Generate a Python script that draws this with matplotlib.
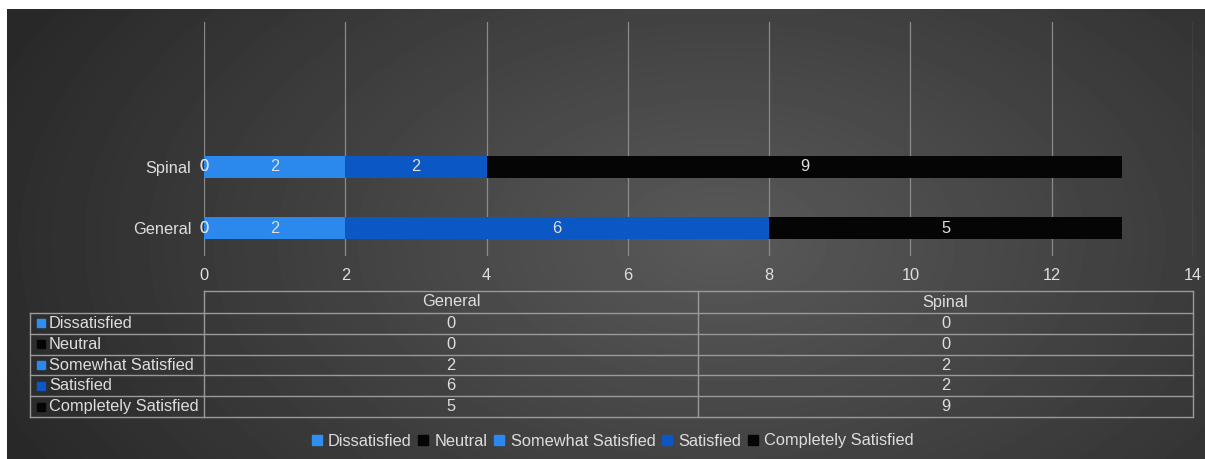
import numpy as np
import matplotlib.pyplot as plt
from matplotlib.patches import Rectangle
from matplotlib.lines import Line2D

plt.rcParams["font.family"] = ["Liberation Sans", "DejaVu Sans"]

# data
groups = ["General", "Spinal"]
levels = ["Dissatisfied", "Neutral", "Somewhat Satisfied", "Satisfied", "Completely Satisfied"]
dissatisfied = [0, 0]
neutral = [0, 0]
somewhat_satisfied = [2, 2]
satisfied = [6, 2]
completely_satisfied = [5, 9]
series = [dissatisfied, neutral, somewhat_satisfied, satisfied, completely_satisfied]
colors = ["#2f8ff0", "#050505", "#2b88ec", "#0b57c3", "#050505"]
x_ticks = [0, 2, 4, 6, 8, 10, 12, 14]

TXT = "#dedede"
LINE = "#9a9a9a"
FS = 11.8
W, H = 1205, 459

fig = plt.figure(figsize=(W / 100, H / 100), dpi=100, facecolor="white")

# background with radial gradient (pixel coordinates)
bg = fig.add_axes([7 / W, 0, 1 - 7 / W, 1 - 9 / H])
bg.set_xlim(7, W)
bg.set_ylim(H, 9)
bg.axis("off")
yy, xx = np.mgrid[9:H:2, 7:W:2]
r = np.sqrt(((xx - 720) / 700.0) ** 2 + ((yy - 240) / 420.0) ** 2)
shade = np.clip(0.35 - 0.17 * r, 0.16, 0.35)
bg.imshow(shade, cmap="gray", vmin=0, vmax=1, extent=(7, W, H, 9), aspect="auto", zorder=0)

# main bar chart
ax = fig.add_axes([204 / W, 1 - 256 / H, (1193 - 204) / W, (256 - 22) / H])
ax.set_facecolor("none")
ypos = np.arange(len(groups))
left = np.zeros(len(groups))
for vals, col in zip(series, colors):
    vals = np.array(vals, dtype=float)
    ax.barh(ypos, vals, left=left, height=0.36, color=col, zorder=3)
    for yi, (l, v) in enumerate(zip(left, vals)):
        ax.text(l + v / 2, yi, f"{v:g}", ha="center", va="center",
                color=TXT, fontsize=FS, zorder=4)
    left = left + vals

ax.set_xlim(0, 14)
ax.set_ylim(-0.459, 3.377)
ax.set_xticks(x_ticks)
ax.set_xticklabels([str(t) for t in x_ticks])
ax.set_yticks(ypos)
ax.set_yticklabels(groups)
ax.tick_params(length=0, colors=TXT, labelsize=FS)
ax.tick_params(axis="x", pad=9)
ax.tick_params(axis="y", pad=9)
for s in ax.spines.values():
    s.set_visible(False)
ax.grid(axis="x", color="#8a8a8a", lw=0.9, zorder=1)

# data table below the chart (pixel coordinates on background axes)
col_x = [204, 698, 1193]
lab_x0 = 30
head_y0, head_y1 = 291, 313
row_h = (417 - 313) / len(levels)
row_y = [head_y1 + i * row_h for i in range(len(levels) + 1)]

bg.plot([col_x[0], col_x[-1]], [head_y0, head_y0], color=LINE, lw=1)
for y in row_y:
    bg.plot([lab_x0, col_x[-1]], [y, y], color=LINE, lw=1)
for x in col_x:
    bg.plot([x, x], [head_y0, row_y[-1]], color=LINE, lw=1)
bg.plot([lab_x0, lab_x0], [row_y[0], row_y[-1]], color=LINE, lw=1)

for j, g in enumerate(groups):
    cx = (col_x[j] + col_x[j + 1]) / 2
    bg.text(cx, (head_y0 + head_y1) / 2, g, ha="center", va="center", color=TXT, fontsize=FS)
for i, (lev, vals, col) in enumerate(zip(levels, series, colors)):
    cy = (row_y[i] + row_y[i + 1]) / 2
    bg.add_patch(Rectangle((37, cy - 4), 8, 8, color=col))
    bg.text(49, cy, lev, ha="left", va="center", color=TXT, fontsize=FS)
    for j, v in enumerate(vals):
        cx = (col_x[j] + col_x[j + 1]) / 2
        bg.text(cx, cy, f"{v:g}", ha="center", va="center", color=TXT, fontsize=FS)

# legend
handles = [Line2D([], [], marker="s", ls="none", color=c, markersize=6.5) for c in colors]
fig.legend(handles, levels, loc="center", bbox_to_anchor=(612 / W, 1 - 441 / H), ncol=5,
           frameon=False, fontsize=FS, labelcolor=TXT, handletextpad=0.3,
           columnspacing=0.3, handlelength=0.8)

fig.savefig("out.png", dpi=100, facecolor="white")
